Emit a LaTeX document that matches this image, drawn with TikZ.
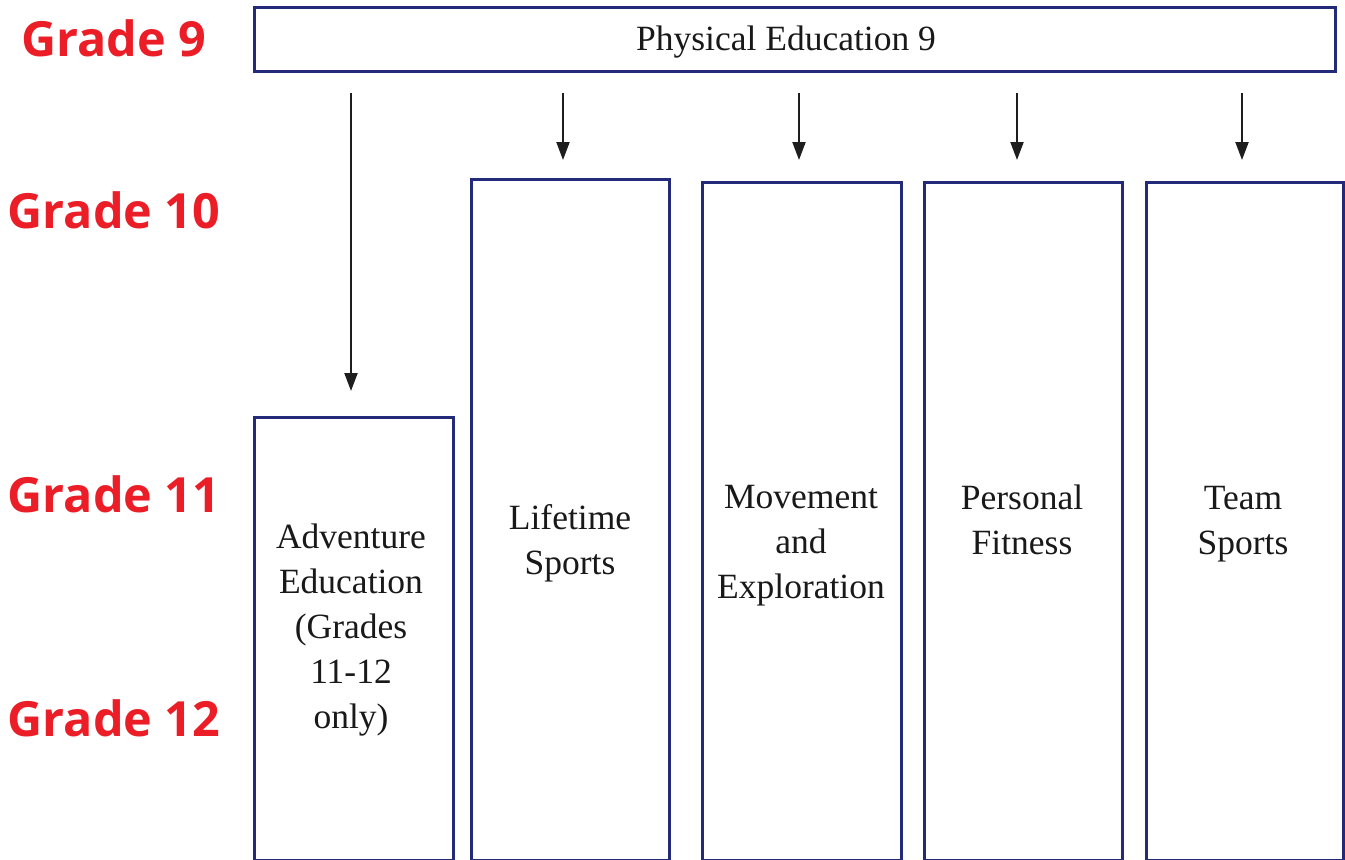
\documentclass[tikz,border=0pt]{standalone}
\usepackage{fontspec}
\setmainfont{Liberation Serif}
\newfontfamily\gradefont{Open Sans}
\usetikzlibrary{arrows.meta}
\definecolor{navy}{RGB}{35,42,122}
\definecolor{gradered}{RGB}{235,30,40}
\definecolor{arrowgray}{RGB}{30,30,30}
\tikzset{
  course/.style={draw=navy, line width=2.7pt, fill=white, inner sep=0pt, anchor=north west},
  coursetext/.style={align=center, font=\fontsize{35.5}{45}\selectfont, text=black!90, inner sep=0pt},
  gradelabel/.style={font=\gradefont\bfseries\fontsize{48.5}{50}\selectfont, text=gradered, inner sep=0pt},
  arr/.style={draw=arrowgray, line width=2.1pt, -{Triangle[length=18pt,width=13pt]}}
}
\begin{document}
\begin{tikzpicture}[x=1pt,y=-1pt]
\useasboundingbox (0,0) rectangle (1345,860);
% grade labels
\node[gradelabel] (g9)  at (114,38)  {Grade 9};
\node[gradelabel] (g10) at (114,210) {Grade 10};
\node[gradelabel] (g11) at (114,494) {Grade 11};
\node[gradelabel] (g12) at (114,718) {Grade 12};
% top box
\node[course, minimum width=1081pt, minimum height=64pt] (pe) at (253,6) {};
\node[coursetext] (pet) at (786,42) {Physical Education 9};
% course columns
\node[course, minimum width=199pt, minimum height=443pt] (ae) at (253,416) {};
\node[course, minimum width=198pt, minimum height=681pt] (lt) at (470,178) {};
\node[course, minimum width=199pt, minimum height=678pt] (me) at (701,181) {};
\node[course, minimum width=198pt, minimum height=678pt] (pf) at (923,181) {};
\node[course, minimum width=197pt, minimum height=678pt] (ts) at (1145,181) {};
% texts
\node[coursetext] (aet) at (351,630) {Adventure\\Education\\(Grades\\11-12\\only)};
\node[coursetext] (ltt) at (570,543) {Lifetime\\Sports};
\node[coursetext] (met) at (801,546) {Movement\\and\\Exploration};
\node[coursetext] (pft) at (1022,520) {Personal\\Fitness};
\node[coursetext] (tst) at (1243,524) {Team\\Sports};
% arrow start points
\coordinate (a1) at (351,93);
\coordinate (a2) at (563,93);
\coordinate (a3) at (799,93);
\coordinate (a4) at (1017,93);
\coordinate (a5) at (1242,93);
% arrows
\draw[arr, shorten >=25pt] (a1) -- (a1 |- ae.north);
\draw[arr, shorten >=18pt] (a2) -- (a2 |- lt.north);
\draw[arr, shorten >=21pt] (a3) -- (a3 |- me.north);
\draw[arr, shorten >=21pt] (a4) -- (a4 |- pf.north);
\draw[arr, shorten >=21pt] (a5) -- (a5 |- ts.north);
\end{tikzpicture}
\end{document}
